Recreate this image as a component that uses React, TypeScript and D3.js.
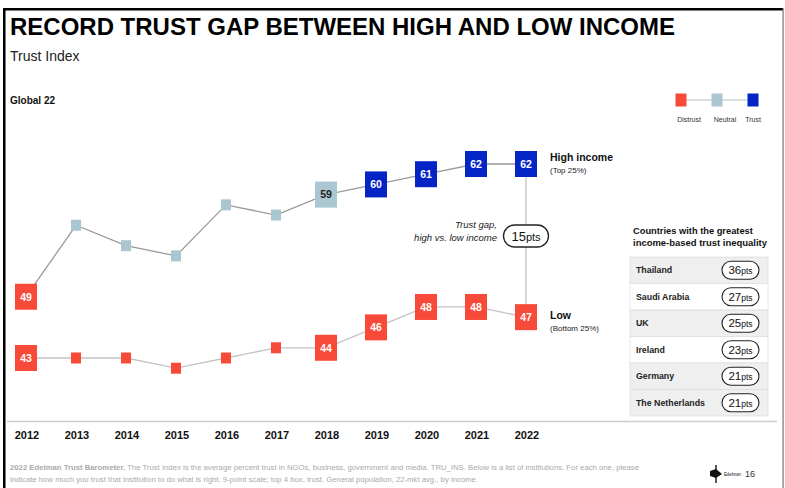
import React from "react";
import * as d3 from "d3";

const years = [2012, 2013, 2014, 2015, 2016, 2017, 2018, 2019, 2020, 2021, 2022];
const highIncome = [49, 56, 54, 53, 58, 57, 59, 60, 61, 62, 62];
const lowIncome = [43, 43, 43, 42, 43, 44, 44, 46, 48, 48, 47];
const labeledYears = [2012, 2018, 2019, 2020, 2021, 2022];
const countries = ["Thailand", "Saudi Arabia", "UK", "Ireland", "Germany", "The Netherlands"];
const countryGaps = [36, 27, 25, 23, 21, 21];
const trustGap = 15;
const legendItems = ["Distrust", "Neutral", "Trust"];

const RED = "#f74a38";
const NEUTRAL = "#a9c6d1";
const BLUE = "#0424c6";
const FONT = "Liberation Sans, Arial, sans-serif";

const colorFor = (v: number) => (v < 50 ? RED : v < 60 ? NEUTRAL : BLUE);

export default function App() {
  const W = 785;
  const H = 488;
  const x = d3.scalePoint<number>().domain(years).range([26, 526]);
  const y = d3.scaleLinear().domain([43, 62]).range([358, 164]);

  const line = d3
    .line<number>()
    .x((_, i) => x(years[i]) as number)
    .y((d) => y(d));

  const renderSeries = (vals: number[], stroke: string, key: string) => (
    <g key={key}>
      <path d={line(vals) || ""} fill="none" stroke={stroke} strokeWidth={1.3} />
      {vals.map((v, i) => {
        const cx = x(years[i]) as number;
        const cy = y(v);
        const big = labeledYears.includes(years[i]);
        const c = colorFor(v);
        if (!big) {
          return <rect key={i} x={cx - 5} y={cy - 5.5} width={10} height={11} fill={c} />;
        }
        return (
          <g key={i}>
            <rect x={cx - 11} y={cy - 13} width={22} height={26} fill={c} />
            <text
              x={cx}
              y={cy + 3.8}
              textAnchor="middle"
              fontFamily={FONT}
              fontWeight="bold"
              fontSize={10.5}
              fill={c === NEUTRAL ? "#222" : "#fff"}
            >
              {v}
            </text>
          </g>
        );
      })}
    </g>
  );

  const gx = x(2022) as number;
  const hiY = y(highIncome[highIncome.length - 1]);
  const loY = y(lowIncome[lowIncome.length - 1]);
  const pillY = 236;

  const tableX = 630;
  const tableW = 138;
  const tableTop = 257;
  const rowH = 26.5;

  const legendX = [681, 717, 753];

  return (
    <svg
      width={W}
      height={H}
      viewBox={`0 0 ${W} ${H}`}
      style={{ position: "absolute", left: 0, top: 0, background: "#fff" }}
    >
      <rect x={0} y={0} width={W} height={H} fill="#fff" />
      {/* frame */}
      <rect x={3} y={8} width={780} height={2.5} fill="#000" />
      <rect x={3} y={8} width={2.5} height={480} fill="#000" />
      <rect x={782.5} y={8} width={1.2} height={480} fill="#777" />

      {/* titles */}
      <text x={10} y={35} fontFamily={FONT} fontWeight="bold" fontSize={24} fill="#000" textLength={665} lengthAdjust="spacingAndGlyphs">
        RECORD TRUST GAP BETWEEN HIGH AND LOW INCOME
      </text>
      <text x={10} y={61} fontFamily={FONT} fontSize={14} fill="#222">
        Trust Index
      </text>
      <text x={10} y={104} fontFamily={FONT} fontWeight="bold" fontSize={10} fill="#111">
        Global 22
      </text>

      {/* legend */}
      <line x1={legendX[0]} x2={legendX[2]} y1={100} y2={100} stroke="#b5bfc2" strokeWidth={1} />
      {legendItems.map((name, i) => (
        <g key={name}>
          <rect x={legendX[i] - 5.5} y={93.5} width={11} height={13} fill={[RED, NEUTRAL, BLUE][i]} />
          <text x={legendX[i] + (i === 0 ? 8 : i === 1 ? 8 : 0)} y={122} textAnchor="middle" fontFamily={FONT} fontSize={7} fill="#333">
            {name}
          </text>
        </g>
      ))}

      {/* gap connector */}
      <line x1={gx} x2={gx} y1={hiY + 13} y2={loY - 13} stroke="#bdbdbd" strokeWidth={1.2} />

      {renderSeries(lowIncome, "#c4c4c4", "low")}
      {renderSeries(highIncome, "#9a9a9a", "high")}

      {/* gap pill */}
      <rect x={gx - 22.5} y={pillY - 11} width={45} height={22} rx={11} fill="#fff" stroke="#222" strokeWidth={1.3} />
      <text x={gx} y={pillY + 4.5} textAnchor="middle" fontFamily={FONT} fill="#111">
        <tspan fontSize={13}>{trustGap}</tspan>
        <tspan fontSize={11}>pts</tspan>
      </text>
      <text x={497} y={228} textAnchor="end" fontFamily={FONT} fontStyle="italic" fontSize={9.5} fill="#222">
        Trust gap,
      </text>
      <text x={497} y={241} textAnchor="end" fontFamily={FONT} fontStyle="italic" fontSize={9.5} fill="#222">
        high vs. low income
      </text>

      {/* series labels */}
      <text x={550} y={161} fontFamily={FONT} fontWeight="bold" fontSize={10.5} fill="#111">
        High income
      </text>
      <text x={550} y={173} fontFamily={FONT} fontSize={8} fill="#222">
        (Top 25%)
      </text>
      <text x={550} y={319} fontFamily={FONT} fontWeight="bold" fontSize={10.5} fill="#111">
        Low
      </text>
      <text x={550} y={331} fontFamily={FONT} fontSize={8} fill="#222">
        (Bottom 25%)
      </text>

      {/* table */}
      <text x={633} y={234} fontFamily={FONT} fontWeight="bold" fontSize={9.3} fill="#111">
        Countries with the greatest
      </text>
      <text x={633} y={246} fontFamily={FONT} fontWeight="bold" fontSize={9.3} fill="#111" textLength={134} lengthAdjust="spacingAndGlyphs">
        income-based trust inequality
      </text>
      {countries.map((c, i) => {
        const ry = tableTop + i * rowH;
        const cy = ry + rowH / 2;
        const gray = i % 2 === 0 || i === countries.length - 1;
        return (
          <g key={c}>
            <rect x={tableX} y={ry} width={tableW} height={rowH} fill={gray ? "#efefef" : "#fff"} stroke="#dcdcdc" strokeWidth={0.7} />
            <text x={636} y={cy + 3.2} fontFamily={FONT} fontWeight="bold" fontSize={8.8} fill="#222">
              {c}
            </text>
            <rect x={722} y={cy - 9} width={37} height={18} rx={9} fill="#fff" stroke="#222" strokeWidth={1.1} />
            <text x={740.5} y={cy + 4} textAnchor="middle" fontFamily={FONT} fill="#111">
              <tspan fontSize={11.5}>{countryGaps[i]}</tspan>
              <tspan fontSize={8.5}>pts</tspan>
            </text>
          </g>
        );
      })}

      {/* x axis */}
      <line x1={7} x2={777} y1={421.5} y2={421.5} stroke="#c9d0d2" strokeWidth={1.5} />
      {years.map((yr) => (
        <text key={yr} x={(x(yr) as number) + 1} y={439} textAnchor="middle" fontFamily={FONT} fontWeight="bold" fontSize={11} fill="#111">
          {yr}
        </text>
      ))}

      {/* footnote */}
      <text x={10} y={470} fontFamily={FONT} fontSize={7.3} fill="#aaa" textLength={629} lengthAdjust="spacingAndGlyphs">
        <tspan fontWeight="bold">2022 Edelman Trust Barometer.</tspan> The Trust Index is the average percent trust in NGOs, business, government and media. TRU_INS. Below is a list of institutions. For each one, please
      </text>
      <text x={10} y={482} fontFamily={FONT} fontSize={7.3} fill="#aaa" textLength={468} lengthAdjust="spacingAndGlyphs">
        indicate how much you trust that institution to do what is right. 9-point scale; top 4 box, trust. General population, 22-mkt avg., by income.
      </text>

      {/* logo */}
      <path d="M716 465 L716 483" stroke="#111" strokeWidth={1.4} />
      <path d="M710 471 L716 469 L722 474 L716 478 L710 476 Z" fill="#111" />
      <text x={724} y={476} fontFamily={FONT} fontSize={5.5} fill="#111" textLength={17} lengthAdjust="spacingAndGlyphs">
        Edelman
      </text>
      <text x={745} y={477} fontFamily={FONT} fontSize={9} fill="#333">
        16
      </text>
    </svg>
  );
}
